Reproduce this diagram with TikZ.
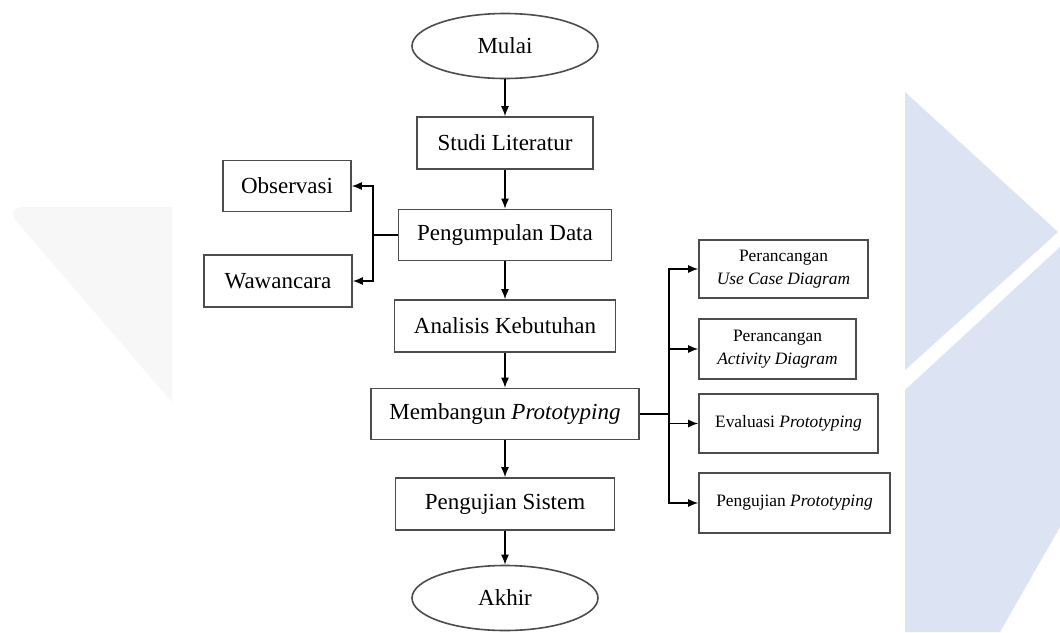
\documentclass[tikz,border=0pt]{standalone}
\usepackage{fontspec}
\setmainfont{Liberation Serif}
\usetikzlibrary{shapes.geometric,arrows.meta}
\definecolor{wmblue}{RGB}{220,227,242}
\definecolor{wmgray}{RGB}{247,247,248}

\begin{document}
\begin{tikzpicture}[x=0.5pt,y=-0.5pt,
	proc/.style={draw=black!70, line width=0.8pt, inner sep=0pt, font=\fontsize{11.5}{13.5}\selectfont},
	term/.style={ellipse, draw=black!70, line width=0.8pt, inner sep=0pt, minimum width=93pt, minimum height=32.5pt, font=\fontsize{11.5}{13.5}\selectfont},
	sub/.style={draw=black!70, line width=0.8pt, inner sep=0pt, align=center, font=\fontsize{8.7}{11.5}\selectfont},
	arr/.style={-{Latex[length=5pt,width=4pt]}, line width=0.7pt},
	link/.style={line width=0.7pt}]
		\useasboundingbox (0,0) rectangle (1060,632);
		\fill [white] (0,0) rectangle (1060,632);
		% watermark
		\fill [wmgray] (172,402) -- (172,207) [rounded corners=10pt] -- (4,207) [sharp corners] -- cycle;
		\fill [wmblue] (905,92) -- (1058,232) -- (905,370) -- cycle;
		\fill [wmblue] (905,390) -- (1060,247) -- (1060,527) -- (1000,632) -- (905,632) -- cycle;
		% main flow
		\node [term] (mulai) at (505,46) {Mulai};
		\node [proc, minimum width=88pt, minimum height=26pt] (studi) at (505,143) {Studi Literatur};
		\node [proc, minimum width=106.5pt, minimum height=25.5pt] (kumpul) at (505,235) {Pengumpulan Data};
		\node [proc, minimum width=110.5pt, minimum height=26pt] (analisis) at (505,326) {Analisis Kebutuhan};
		\node [proc, minimum width=134pt, minimum height=25.5pt] (bangun) at (505,414) {Membangun \textit{Prototyping}};
		\node [proc, minimum width=109.5pt, minimum height=26pt] (uji) at (505,504) {Pengujian Sistem};
		\node [term] (akhir) at (505,598) {Akhir};
		% data collection
		\node [proc, minimum width=64pt, minimum height=25.5pt] (obs) at (287,186) {Observasi};
		\node [proc, minimum width=74pt, minimum height=26pt] (waw) at (278,281) {Wawancara};
		% prototyping steps
		\node [sub, minimum width=84.5pt, minimum height=29pt] (usecase) at (783.5,269) {Perancangan\\\textit{Use Case Diagram}};
		\node [sub, minimum width=78.5pt, minimum height=30pt] (activity) at (777.5,349) {Perancangan\\\textit{Activity Diagram}};
		\node [sub, minimum width=89.5pt, minimum height=29.5pt] (evaluasi) at (788.5,423.5) {Evaluasi \textit{Prototyping}};
		\node [sub, minimum width=95.5pt, minimum height=30pt] (ujiproto) at (794.5,503) {Pengujian \textit{Prototyping}};
		\coordinate (kiri) at (373,235);
		\coordinate (kanan) at (669,414);
		\draw [arr] (mulai) -- (studi);
		\draw [arr] (studi) -- (kumpul);
		\draw [arr] (kumpul) -- (analisis);
		\draw [arr] (analisis) -- (bangun);
		\draw [arr] (bangun) -- (uji);
		\draw [arr] (uji) -- (akhir);
		\draw [link] (kumpul.west) -- (kiri);
		\draw [arr] (kiri) |- (obs);
		\draw [arr] (kiri) |- (waw);
		\draw [link] (bangun.east) -- (kanan);
		\draw [arr] (kanan) |- (usecase);
		\draw [arr] (kanan) |- (activity);
		\draw [arr] (kanan) |- (evaluasi);
		\draw [arr] (kanan) |- (ujiproto);
	\end{tikzpicture}
\end{document}
